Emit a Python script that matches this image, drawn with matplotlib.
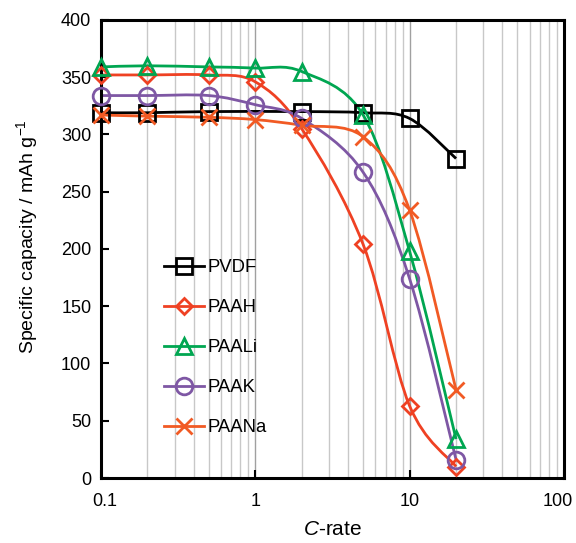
import numpy as np
import matplotlib
matplotlib.use('Agg')
import matplotlib.pyplot as plt
from matplotlib.path import Path
from matplotlib.patches import PathPatch
from matplotlib.lines import Line2D
from matplotlib.transforms import ScaledTranslation

plt.rcParams['font.family'] = ['Liberation Sans', 'DejaVu Sans']
plt.rcParams['mathtext.fontset'] = 'custom'
plt.rcParams['mathtext.rm'] = 'Liberation Sans'
plt.rcParams['mathtext.it'] = 'Liberation Sans:italic'

# C-rate values and capacities (mAh/g)
rate = [0.1, 0.2, 0.5, 1, 2, 5, 10, 20]
rate_pvdf = [0.1, 0.2, 0.5, 2, 5, 10, 20]
pvdf = [319, 319, 320, 320, 319, 314, 279]
paah = [352, 352, 352, 346, 305, 204, 63, 10]
paali = [359, 360, 359, 358, 355, 317, 198, 34]
paak = [334, 334, 334, 326, 314, 267, 174, 16]
paana = [317, 316, 315, 313, 308, 298, 234, 77]

series = [
    ('PVDF', rate_pvdf, pvdf, 'black', 's', 11),
    ('PAAH', rate, paah, '#EF4123', 'D', 8.5),
    ('PAALi', rate, paali, '#00A651', '^', 12),
    ('PAAK', rate, paak, '#7E57A4', 'o', 12),
    ('PAANa', rate, paana, '#F15A24', 'x', 12),
]


def smooth_path(ax, xs, ys):
    # Catmull-Rom style bezier through the points, built in display space
    pts = ax.transData.transform(np.column_stack([xs, ys]))
    n = len(pts)
    verts = [pts[0]]
    codes = [Path.MOVETO]
    for i in range(n - 1):
        p0 = pts[max(i - 1, 0)]
        p1 = pts[i]
        p2 = pts[i + 1]
        p3 = pts[min(i + 2, n - 1)]
        c1 = p1 + (p2 - p0) / 6.0
        c2 = p2 - (p3 - p1) / 6.0
        verts += [c1, c2, p2]
        codes += [Path.CURVE4] * 3
    verts = ax.transData.inverted().transform(np.array(verts))
    return Path(verts, codes)


fig = plt.figure(figsize=(5.76, 5.43), dpi=100)
ax = fig.add_axes([0.1753, 0.1197, 0.8037, 0.8435])
ax.set_xscale('log')
ax.set_xlim(0.1, 100)
ax.set_ylim(0, 400)

ax.grid(True, which='minor', axis='x', color='#c8c8c8', lw=1.0)
ax.grid(True, which='major', axis='x', color='#a0a0a0', lw=1.0)
ax.set_axisbelow(True)

handles = []
for name, xs, ys, col, mk, ms in series:
    ax.add_patch(PathPatch(smooth_path(ax, xs, ys), fc='none', ec=col,
                           lw=2.0, zorder=2))
    ax.plot(xs, ys, ls='none', marker=mk, ms=ms, mfc='none', mec=col,
            mew=2.0, zorder=3, clip_on=False)
    handles.append(Line2D([], [], color=col, lw=2.0, marker=mk, ms=ms,
                          mfc='none', mec=col, mew=2.0))

ax.legend(handles=handles, labels=[s[0] for s in series],
          loc='upper left', bbox_to_anchor=(0.12, 0.494), frameon=False,
          fontsize=13.3, handlelength=2.15, handletextpad=0.2,
          labelspacing=1.25, borderaxespad=0)

for sp in ax.spines.values():
    sp.set_linewidth(2.2)

ax.set_yticks(np.arange(0, 401, 50))
ax.tick_params(axis='both', which='major', direction='in', length=6,
               width=1.5, labelsize=13, pad=7)
ax.tick_params(axis='x', which='major', pad=11)
ax.tick_params(axis='x', which='minor', length=0)
ax.set_xticks([0.1, 1, 10, 100])
ax.set_xticklabels(['0.1', '1', '10', '100'])

# nudge end labels inwards like the original
xlabels = ax.get_xticklabels()
for lab, dx in ((xlabels[0], 4), (xlabels[-1], -6)):
    lab.set_transform(lab.get_transform() +
                      ScaledTranslation(dx / 100, 0, fig.dpi_scale_trans))

ax.set_xlabel('$C$-rate', fontsize=15, labelpad=7)
ax.set_ylabel('Specific capacity / mAh g$^{-1}$', fontsize=14)
ax.yaxis.set_label_coords(-0.132, 0.528)

fig.savefig('out.png', dpi=100)
